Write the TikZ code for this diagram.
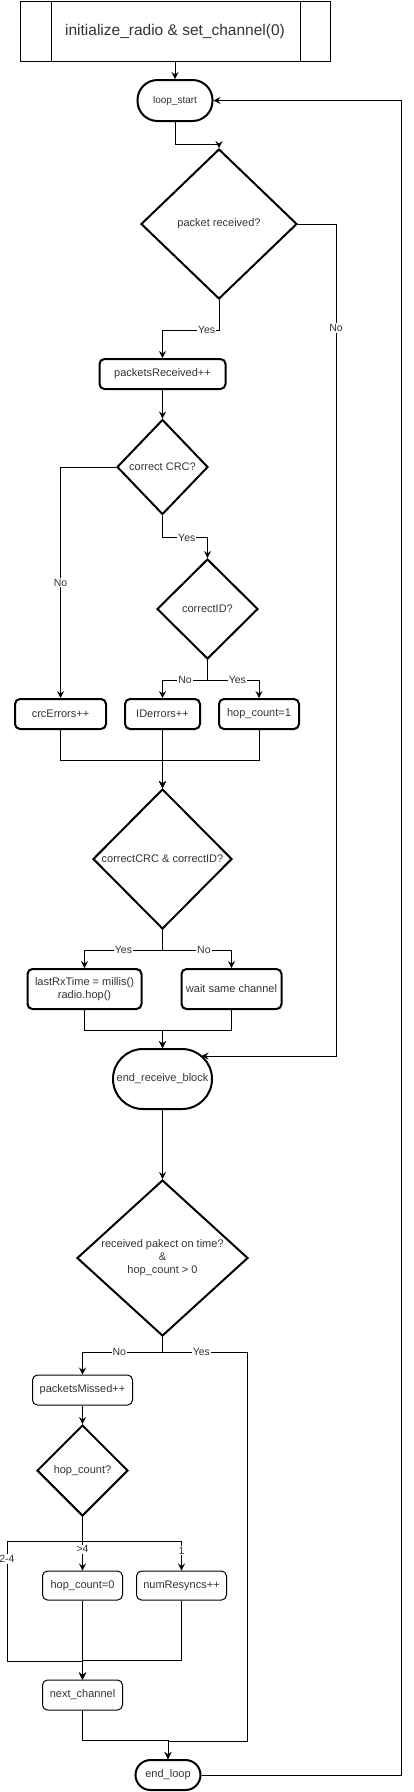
\documentclass[tikz,border=0pt]{standalone}
\usepackage{fontspec}
\setmainfont{Liberation Sans}
\usetikzlibrary{arrows.meta, shapes.geometric, calc}
\definecolor{ctext}{HTML}{333333}
\tikzset{
  every picture/.style={line width=1pt},
  txt/.style={font=\fontsize{11}{13}\selectfont, text=ctext},
  proc/.style={txt, draw, rounded corners=5pt, align=center, inner sep=0pt, minimum height=30pt, line width=#1},
  proc/.default=2pt,
  decision/.style={txt, diamond, draw, line width=2pt, inner sep=0pt, align=center},
  term/.style={txt, draw, line width=2pt, inner sep=0pt},
  arrow/.style={-{Stealth[length=7pt, width=7pt, inset=2.5pt]}, line width=1pt},
  lbl/.style={txt, font=\fontsize{10.5}{12}\selectfont, fill=white, inner sep=1pt},
}
\begin{document}
\begin{tikzpicture}[x=1pt, y=-1pt]
  \useasboundingbox (0,0) rectangle (413,1792);
  % setup
  \node[term, line width=1pt, minimum width=310pt, minimum height=60pt, font=\fontsize{15.5}{18}\selectfont] (init) at (175,31) {initialize\_radio \& set\_channel(0)};
  \draw ([xshift=32pt]init.north west) -- ([xshift=32pt]init.south west)
    ([xshift=-30pt]init.north east) -- ([xshift=-30pt]init.south east);
  % receive block
  \node[term, rounded corners=20pt, minimum width=75pt, minimum height=41pt, font=\fontsize{10}{12}\selectfont] (loopstart) at (175,100.5) {loop\_start};
  \node[decision, minimum width=156pt, minimum height=150pt] (pktrx) at (219,224) {packet received?};
  \node[proc, minimum width=126pt] (pktcnt) at (162.5,374) {packetsReceived++};
  \node[decision, minimum width=91pt, minimum height=95pt] (crcchk) at (162.5,467) {correct CRC?};
  \node[decision, minimum width=101pt, minimum height=100pt] (idchk) at (207.5,609) {correctID?};
  \node[proc, minimum width=91pt] (crcerr) at (60.5,714) {crcErrors++};
  \node[proc, minimum width=75pt] (iderr) at (162.5,714) {IDerrors++};
  \node[proc, minimum width=80pt] (hopone) at (259,714) {hop\_count=1};
  \node[decision, minimum width=139pt, minimum height=140pt] (both) at (162.5,859) {correctCRC \& correctID?};
  \node[proc, minimum width=114pt, minimum height=40pt] (rxok) at (84.5,989) {lastRxTime = millis()\\radio.hop()};
  \node[proc, minimum width=100pt, minimum height=40pt] (wait) at (231.5,989) {wait same channel};
  \node[term, rounded corners=30pt, minimum width=99pt, minimum height=60pt] (endrx) at (162.5,1079) {end\_receive\_block};
  % timing block
  \node[decision, aspect=1.1, minimum width=171pt, minimum height=156pt] (ontime) at (162.5,1258) {received pakect on time?\\\&\\hop\_count > 0};
  \node[proc=1pt, minimum width=100pt] (missed) at (82.5,1390) {packetsMissed++};
  \node[decision, minimum width=91pt, minimum height=91pt] (hopchk) at (82.5,1470.5) {hop\_count?};
  \node[proc=1pt, minimum width=80pt, minimum height=29pt] (hopzero) at (82.5,1585.5) {hop\_count=0};
  \node[proc=1pt, minimum width=90pt, minimum height=29pt] (resync) at (181.5,1585.5) {numResyncs++};
  \node[proc=1pt, minimum width=80pt] (nextch) at (82.5,1695) {next\_channel};
  \node[term, rounded corners=15pt, minimum width=65pt, minimum height=30pt] (endloop) at (168,1775) {end\_loop};
  % connectors
  \draw[arrow] (init.south) -- (loopstart.north);
  \draw[arrow] (loopstart.south) -- ++(0,22) -| (pktrx.north);
  \draw[arrow] (pktrx.south) -- ++(0,30) -| node[lbl, pos=0.11]{Yes} (pktcnt.north);
  \draw[arrow] (pktrx.east) -- ++(38,0) |- node[lbl, pos=0.0625]{No} ($(endrx.center)+(39,-23)$);
  \draw[arrow] (pktcnt) -- (crcchk);
  \draw[arrow] (crcchk.west) -| node[lbl, pos=0.75]{No} (crcerr.north);
  \draw[arrow] (crcchk.south) -- ++(0,22) -| node[lbl, pos=0.27]{Yes} (idchk.north);
  \draw[arrow] (idchk.south) -- ++(0,20) -| node[lbl, pos=0.25]{No} (iderr.north);
  \draw[arrow] (idchk.south) -- ++(0,20) -| node[lbl, pos=0.29]{Yes} (hopone.north);
  \draw[arrow] (crcerr.south) -- ++(0,30) -| (both.north);
  \draw[arrow] (iderr) -- (both);
  \draw[arrow] (hopone.south) -- ++(0,30) -| (both.north);
  \draw[arrow] (both.south) -- ++(0,20) -| node[lbl, pos=0.25]{Yes} (rxok.north);
  \draw[arrow] (both.south) -- ++(0,20) -| node[lbl, pos=0.3]{No} (wait.north);
  \draw[arrow] (rxok.south) -- ++(0,20) -| (endrx.north);
  \draw[arrow] (wait.south) -- ++(0,20) -| (endrx.north);
  \draw[arrow] (endrx) -- (ontime);
  \draw[arrow] (ontime.south) -- ++(0,15) -| node[lbl, pos=0.27]{No} (missed.north);
  \draw[arrow] (ontime.south) -- ++(0,15) -| node[lbl, pos=0.23]{Yes} ++(84.5,389) -| (endloop.north);
  \draw[arrow] (missed) -- (hopchk);
  \draw[arrow] (hopchk) -- node[lbl, pos=0.6]{>4} (hopzero);
  \draw[arrow] (hopchk.south) -- ++(0,24) -| node[lbl, pos=0.66]{1} (resync.north);
  \draw[arrow] (hopchk.south) -- ++(0,24) -| node[lbl, pos=0.575]{2-4} ++(-75.5,120) -| (nextch.north);
  \draw[arrow] (hopzero) -- (nextch);
  \draw[arrow] (resync.south) -- ++(0,60) -| (nextch.north);
  \draw[arrow] (nextch.south) -- ++(0,30) -| (endloop.north);
  \draw[arrow] (endloop.east) -- ++(200,0) |- (loopstart.east);
\end{tikzpicture}
\end{document}
